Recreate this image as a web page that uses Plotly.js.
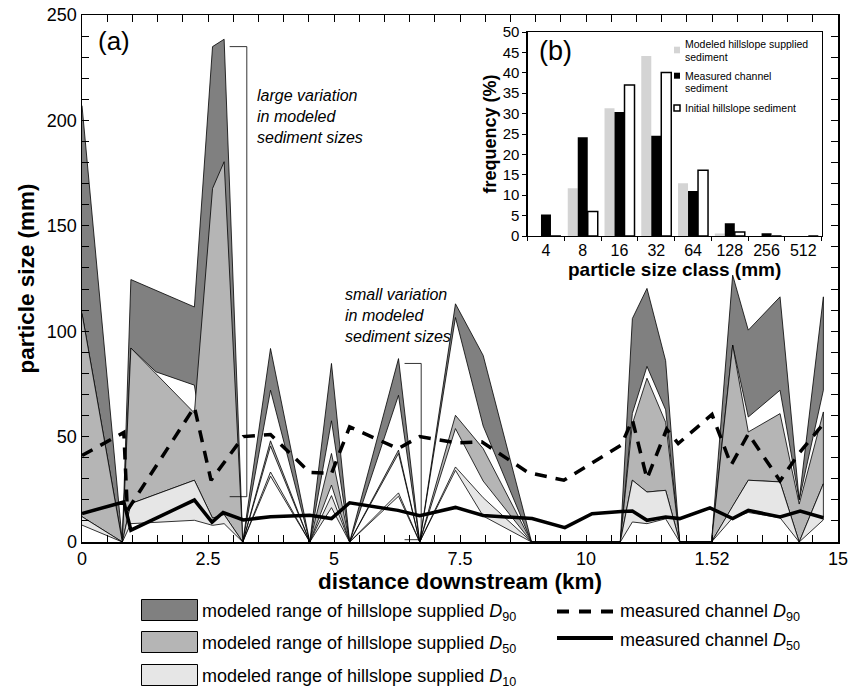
<!DOCTYPE html>
<html><head><meta charset="utf-8">
<script src="https://cdn.plot.ly/plotly-3.0.1.min.js"></script>
<style>html,body{margin:0;padding:0;background:#fff}#chart{width:851px;height:689px}</style>
</head><body><div id="chart"></div>
<script>
// ---------- panel (a): modeled ranges (mm) at distance downstream (km) ----------
const distKm = [0, 0.8, 0.97, 1.47, 2.23, 2.59, 2.82, 3.19, 3.74, 4.52, 4.95, 5.31, 6.28, 6.70, 7.41, 7.96, 8.92, 10.68, 10.92, 11.21, 11.58, 11.86, 12.49, 12.91, 13.22, 13.85, 14.23, 14.71];
const d90Max = [207, 0, 124.5, 119.3, 111.5, 235, 238.5, 0, 91.8, 0, 84.7, 0, 87, 0, 113, 88.5, 0, 0, 106, 120.3, 86, 0, 0, 126.6, 100.5, 116.3, 20, 116.3];
const d90Min = [108.4, 0, 92, 80.7, 74.4, 20, 20, 0, 72, 0, 57.5, 0, 69.6, 0, 106.5, 55, 0, 0, 61, 83.3, 62.7, 0, 0, 93.4, 59.3, 72, 20, 72];
const d50Max = [108.4, 0, 92, 79.8, 61.2, 167.7, 180.4, 0, 48, 0, 42, 0, 43.6, 0, 60.1, 44.3, 0, 0, 56, 77.7, 56.8, 0, 0, 93.4, 52.2, 60.9, 18, 61.7];
const d50Min = [12, 0, 18.2, 22.6, 29.3, 11.3, 13, 0, 45.5, 0, 27, 0, 42, 0, 53.8, 28.9, 0, 0, 29.3, 23.7, 24.5, 0, 0, 17, 29.3, 28.5, 0, 27.7];
const d10Max = [12, 0, 18.2, 22.6, 29.3, 11.3, 13, 0, 33.2, 0, 22, 0, 23.3, 0, 35.6, 21, 0, 0, 29.3, 23.7, 24.5, 0, 0, 17, 29.3, 28.5, 0, 27.7];
const d10Min = [8, 0, 8.7, 9.3, 10.3, 7.9, 8.7, 0, 31.2, 0, 16.3, 0, 21.7, 0, 34, 12.3, 0, 0, 9.5, 8.7, 11, 0, 0, 11.5, 14, 11.5, 0, 10.5];

// measured channel D90 (dashed) and D50 (solid)
const measD90Km = [0, 0.83, 0.9, 2.23, 2.56, 3.2, 3.74, 4.52, 4.95, 5.31, 6.27, 6.70, 7.45, 7.93, 8.85, 9.56, 10.70, 10.92, 11.21, 11.6, 11.83, 12.5, 12.88, 13.22, 13.85, 14.24, 14.71];
const measD90 = [41, 52, 15, 64, 29.3, 50, 51, 33, 32.5, 54.6, 44.3, 50, 47, 47.5, 33, 29.3, 46, 58, 30, 53.5, 46.7, 60.5, 36.5, 51.3, 29, 42.5, 56];
const measD50Km = [0, 0.83, 0.97, 2.23, 2.58, 2.8, 3.2, 3.74, 4.52, 4.95, 5.31, 6.27, 6.70, 7.41, 7.96, 8.93, 9.58, 10.12, 10.7, 10.92, 11.21, 11.58, 11.86, 12.46, 12.91, 13.22, 13.85, 14.25, 14.71];
const measD50 = [13.5, 19, 5.6, 19.9, 9.4, 14, 10.5, 12, 12.7, 11.1, 18.6, 15, 12.5, 16.4, 12.6, 11.1, 6.8, 13.4, 14.5, 14.7, 10.3, 11.9, 11.1, 16.2, 11.1, 15, 11.9, 14.7, 11.5];

const xTickVals = [0, 2.5, 5, 7.5, 10, 12.5, 15];
const xTickText = ['0', '2.5', '5', '7.5', '10', '1.52', '15'];

// bracket annotations (km, mm)
const bracketLarge = {x0: 2.93, x1: 3.27, yTop: 235, yBot: 21.5};
const bracketSmall = {x0: 6.40, x1: 6.73, yTop: 84.7, yBot: 1.1};

// ---------- panel (b): frequency (%) by particle size class ----------
const sizeClass = ['4', '8', '16', '32', '64', '128', '256', '512'];
const modeledPct = [0, 11.7, 31.3, 44.1, 12.9, 0.6, 0, 0];
const measuredPct = [5.3, 24.2, 30.4, 24.6, 11.0, 3.1, 0.7, 0];
const initialPct = [0, 6.0, 37.0, 40.1, 16.1, 1.0, 0, 0];

// ---------- styling ----------
const FONT = 'Liberation Sans, Arial, Helvetica, sans-serif';
const L = 82, R = 13, T = 15, B = 147, WID = 851, HGT = 689;
const PW = WID - L - R, PH = HGT - T - B;
const px = v => (v - L) / PW;            // pixel x -> paper
const py = v => (HGT - B - v) / PH;       // pixel y -> paper

function band(lo, hi, color, name) {
  return {
    x: distKm.concat(distKm.slice().reverse()),
    y: hi.concat(lo.slice().reverse()),
    type: 'scatter', mode: 'lines', fill: 'toself', fillcolor: color,
    line: {color: '#000', width: 0.8}, hoverinfo: 'skip', name: name, showlegend: false,
    xaxis: 'x', yaxis: 'y'
  };
}

const traces = [
  band(d90Min, d90Max, '#808080', 'D90'),
  band(d50Min, d50Max, '#b5b5b5', 'D50'),
  band(d10Min, d10Max, '#e6e6e6', 'D10'),
  {x: measD90Km, y: measD90, type: 'scatter', mode: 'lines', line: {color: '#000', width: 3.5, dash: '12px,9px'}, showlegend: false, xaxis: 'x', yaxis: 'y'},
  {x: measD50Km, y: measD50, type: 'scatter', mode: 'lines', line: {color: '#000', width: 3.5}, showlegend: false, xaxis: 'x', yaxis: 'y'},
  {x: sizeClass, y: modeledPct, type: 'bar', marker: {color: '#d4d4d4', line: {width: 0}}, showlegend: false, xaxis: 'x2', yaxis: 'y2'},
  {x: sizeClass, y: measuredPct, type: 'bar', marker: {color: '#000', line: {width: 0}}, showlegend: false, xaxis: 'x2', yaxis: 'y2'},
  {x: sizeClass, y: initialPct, type: 'bar', marker: {color: '#fff', line: {color: '#000', width: 1.5}}, showlegend: false, xaxis: 'x2', yaxis: 'y2'}
];

const shapes = [];
function bracket(b) {
  const s = {type: 'line', xref: 'x', yref: 'y', line: {color: '#000', width: 0.8}};
  shapes.push(Object.assign({}, s, {x0: b.x0, x1: b.x1, y0: b.yTop, y1: b.yTop}));
  shapes.push(Object.assign({}, s, {x0: b.x1, x1: b.x1, y0: b.yTop, y1: b.yBot}));
  shapes.push(Object.assign({}, s, {x0: b.x0, x1: b.x1, y0: b.yBot, y1: b.yBot}));
}
bracket(bracketLarge);
bracket(bracketSmall);

// bottom legend boxes
const legRows = [610, 642, 675];
const legFills = ['#808080', '#b5b5b5', '#e6e6e6'];
const legSub = ['90', '50', '10'];
const annotations = [];
legRows.forEach((yc, i) => {
  shapes.push({type: 'rect', xref: 'paper', yref: 'paper', x0: px(141.5), x1: px(197.5), y0: py(yc - 10.5), y1: py(yc + 10.5),
    fillcolor: legFills[i], line: {color: '#000', width: 1}});
  annotations.push({xref: 'paper', yref: 'paper', x: px(200), y: py(yc + 2), xanchor: 'left', yanchor: 'middle', showarrow: false,
    text: 'modeled range of hillslope supplied <i>D</i><sub>' + legSub[i] + '</sub>', font: {family: FONT, size: 18, color: '#000'}});
});
shapes.push({type: 'line', xref: 'paper', yref: 'paper', x0: px(557), x1: px(613), y0: py(611.5), y1: py(611.5), line: {color: '#000', width: 4, dash: '12px,10px'}});
shapes.push({type: 'line', xref: 'paper', yref: 'paper', x0: px(557), x1: px(613), y0: py(638), y1: py(638), line: {color: '#000', width: 4}});
annotations.push({xref: 'paper', yref: 'paper', x: px(618), y: py(612), xanchor: 'left', yanchor: 'middle', showarrow: false,
  text: 'measured channel <i>D</i><sub>90</sub>', font: {family: FONT, size: 18, color: '#000'}});
annotations.push({xref: 'paper', yref: 'paper', x: px(618), y: py(641), xanchor: 'left', yanchor: 'middle', showarrow: false,
  text: 'measured channel <i>D</i><sub>50</sub>', font: {family: FONT, size: 18, color: '#000'}});

// inset legend
const insetLeg = [
  {sq: [46.7, 53.3], fill: '#d4d4d4', line: 0, lines: [['Modeled hillslope supplied', 44.3], ['sediment', 56.7]]},
  {sq: [72.7, 78.7], fill: '#000', line: 0, lines: [['Measured channel', 76], ['sediment', 88.3]]},
  {sq: [105, 111], fill: '#fff', line: 1.5, lines: [['Initial hillslope sediment', 108.3]]}
];
insetLeg.forEach(it => {
  shapes.push({type: 'rect', xref: 'paper', yref: 'paper', x0: px(674), x1: px(680), y0: py(it.sq[1]), y1: py(it.sq[0]),
    fillcolor: it.fill, line: {color: '#000', width: it.line}});
  it.lines.forEach(l => annotations.push({xref: 'paper', yref: 'paper', x: px(683), y: py(l[1]), xanchor: 'left', yanchor: 'middle',
    showarrow: false, text: l[0], font: {family: FONT, size: 10.5, color: '#000'}}));
});

annotations.push({xref: 'paper', yref: 'paper', x: px(114), y: py(41), xanchor: 'center', yanchor: 'middle', showarrow: false,
  text: '(a)', font: {family: FONT, size: 26, color: '#000'}});
annotations.push({xref: 'paper', yref: 'paper', x: px(555), y: py(51), xanchor: 'center', yanchor: 'middle', showarrow: false,
  text: '(b)', font: {family: FONT, size: 27, color: '#000'}});
annotations.push({xref: 'paper', yref: 'paper', x: px(255), y: py(116.5), xanchor: 'left', yanchor: 'middle', showarrow: false, align: 'left',
  text: '<i>large variation<br>in modeled<br>sediment sizes</i>', font: {family: FONT, size: 16, color: '#000'}});
annotations.push({xref: 'paper', yref: 'paper', x: px(343), y: py(315.5), xanchor: 'left', yanchor: 'middle', showarrow: false, align: 'left',
  text: '<i>small variation<br>in modeled<br>sediment sizes</i>', font: {family: FONT, size: 16, color: '#000'}});

const layout = {
  width: WID, height: HGT,
  margin: {l: L, r: R, t: T, b: B},
  paper_bgcolor: '#fff', plot_bgcolor: '#fff',
  font: {family: FONT, color: '#000'},
  showlegend: false,
  barmode: 'group', bargap: 0.184, bargroupgap: 0,
  xaxis: {
    domain: [0, 1], anchor: 'y', range: [0, 15], tickmode: 'array', tickvals: xTickVals, ticktext: xTickText,
    ticks: 'inside', ticklen: 7, tickwidth: 1, tickcolor: '#000', showline: true, linewidth: 1.5, linecolor: '#000', mirror: 'ticks',
    minor: {dtick: 0.5, tick0: 0, ticks: 'inside', ticklen: 7, tickwidth: 1, tickcolor: '#000', showgrid: false},
    showgrid: false, zeroline: false, tickfont: {family: FONT, size: 18},
    title: {text: '<b>distance downstream (km)</b>', font: {family: FONT, size: 22.5}, standoff: 5}
  },
  yaxis: {
    domain: [0, 1], anchor: 'x', range: [0, 250], tickmode: 'linear', tick0: 0, dtick: 50,
    ticks: 'inside', ticklen: 7, tickwidth: 1, tickcolor: '#000', showline: true, linewidth: 1.5, linecolor: '#000', mirror: 'ticks',
    minor: {dtick: 10, tick0: 0, ticks: 'inside', ticklen: 7, tickwidth: 1, tickcolor: '#000', showgrid: false},
    showgrid: false, zeroline: false, tickfont: {family: FONT, size: 18},
    title: {text: '<b>particle size (mm)</b>', font: {family: FONT, size: 22.5}, standoff: 6}
  },
  xaxis2: {
    domain: [px(527.6), px(821.7)], anchor: 'y2', type: 'category', tickson: 'boundaries',
    ticks: 'outside', ticklen: 4, tickcolor: '#000', showline: true, linewidth: 1.2, linecolor: '#000', mirror: true,
    showgrid: false, zeroline: false, tickfont: {family: FONT, size: 16},
    title: {text: '<b>particle size class (mm)</b>', font: {family: FONT, size: 19}, standoff: 2}
  },
  yaxis2: {
    domain: [py(236), py(32)], anchor: 'x2', range: [0, 50], tickmode: 'linear', tick0: 0, dtick: 5,
    ticks: 'outside', ticklen: 4, tickcolor: '#000', showline: true, linewidth: 1.2, linecolor: '#000', mirror: true,
    showgrid: false, zeroline: false, tickfont: {family: FONT, size: 15},
    title: {text: '<b>frequency (%)</b>', font: {family: FONT, size: 18}, standoff: 1}
  },
  shapes: shapes,
  annotations: annotations
};

Plotly.newPlot('chart', traces, layout, {displayModeBar: false, staticPlot: true});
</script></body></html>
